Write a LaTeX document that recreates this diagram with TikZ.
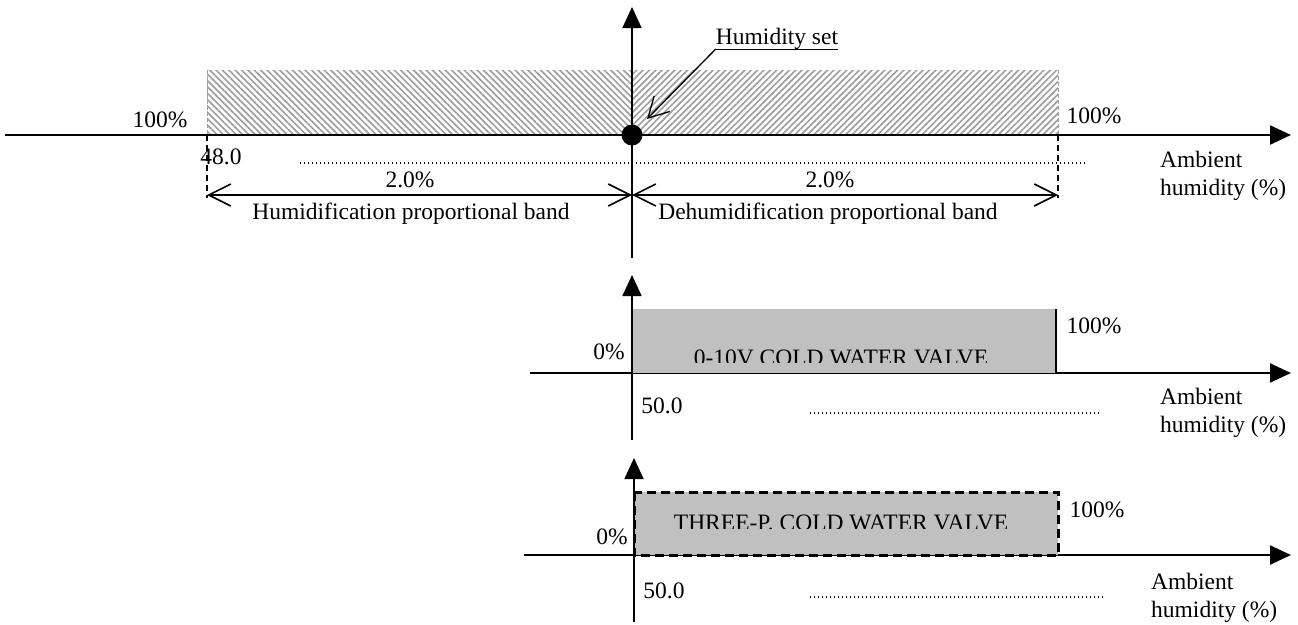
\documentclass[tikz,border=0pt]{standalone}
\usepackage{fontspec}
\setmainfont{Liberation Serif}
\usetikzlibrary{arrows.meta,patterns.meta}
\definecolor{valvegray}{HTML}{C0C0C0}
\definecolor{hatchgray}{HTML}{A0A0A0}
\begin{document}
\begin{tikzpicture}[x=1pt,y=-1pt,
  lbl/.style={font=\fontsize{23.5}{27}\selectfont,inner sep=0pt,anchor=base},
  lblw/.style={font=\fontsize{23.5}{27.5}\selectfont,inner sep=0pt,anchor=base west,align=left},
  thickaxis/.style={line width=2.2pt},
  axisarrow/.style={-{Triangle[length=21pt,width=19pt]}},
  vaxis/.style={line width=1.6pt},
  guide/.style={line width=1.3pt,dash pattern=on 6pt off 4pt},
  hatchedge/.style={hatchgray,line width=0.8pt,dash pattern=on 4pt off 2pt},
  dotline/.style={line width=1.3pt,dash pattern=on 1.3pt off 2.7pt},
  dimline/.style={line width=1.8pt,{Straight Barb[length=22pt,width=22pt,line width=1.6pt]}-{Straight Barb[length=22pt,width=22pt,line width=1.6pt]}},
  hatchL/.style={pattern={Lines[angle=-45,distance=4.5pt,line width=1.7pt]},pattern color=hatchgray},
  hatchR/.style={pattern={Lines[angle=45,distance=4.5pt,line width=1.7pt]},pattern color=hatchgray},
]
\useasboundingbox (0,0) rectangle (1298,624);

% ---------- top chart ----------
\coordinate (L0) at (5,135);
\coordinate (A) at (207,135);
\coordinate (O) at (632,135);
\coordinate (B) at (1058,135);
\coordinate (R) at (1291,135);
\coordinate (Otop) at (632,7);
\coordinate (Obot) at (632,258);
\coordinate (Aend) at (207,198);
\coordinate (Bend) at (1058,198);
\coordinate (DL) at (207,195);
\coordinate (DO) at (632,195);
\coordinate (DR) at (1058,195);
\coordinate (dot1a) at (300,163);
\coordinate (dot1b) at (1087,163);

\fill[hatchL] (207,70) rectangle (632,135);
\fill[hatchR] (632,70) rectangle (1058,135);
\draw[hatchedge] (207,70) -- (A);
\draw[hatchedge] (1058,70) -- (B);

\draw[thickaxis] (L0) -- (A);
\draw[line width=1.2pt] (A) -- (B);
\draw[thickaxis,axisarrow] (B) -- (R);
\draw[vaxis,axisarrow] (Obot) -- (Otop);
\fill (O) circle (10.5);

\draw[guide] (A) -- (Aend);
\draw[guide] (B) -- (Bend);
\draw[dotline] (dot1a) -- (dot1b);
\draw[dimline] (DL) -- (DO);
\draw[dimline] (DO) -- (DR);

\node[lbl] (l100) at (160,127) {100\%};
\node[lbl] (l48) at (221,164) {48.0};
\node[lbl] (p2l) at (410,187) {2.0\%};
\node[lbl] (hum) at (411,219) {Humidification proportional band};
\node[lbl] (p2r) at (830,187) {2.0\%};
\node[lbl] (dehum) at (828,219) {Dehumidification proportional band};
\node[lbl] (r100) at (1094,123) {100\%};
\node[lblw] (amb1) at (1160,195) {Ambient\\humidity (\%)};

\node[lbl] (set) at (777,44) {Humidity set};
\coordinate (setul) at ([yshift=-5pt]set.base west);
\coordinate (setur) at ([yshift=-5pt]set.base east);
\coordinate (settip) at (647,119);
\draw[line width=1pt] (setul) -- (setur);
\draw[line width=1.3pt,-{Straight Barb[length=20pt,width=22pt]}] (setul) -- (settip);

% ---------- middle chart ----------
\coordinate (M0) at (530,373);
\coordinate (MR) at (1291,373);
\coordinate (Mtop) at (632,275);
\coordinate (Mbot) at (632,440);
\coordinate (dot2a) at (810,413);
\coordinate (dot2b) at (1100,413);
\draw[thickaxis,axisarrow] (M0) -- (MR);
\fill[valvegray] (632,309) rectangle (1056,373);
\draw[line width=1.6pt] (1056,309) -- (1056,373);
\draw[vaxis,axisarrow] (Mbot) -- (Mtop);
\begin{scope}
  \clip (632,300) rectangle (1056,362);
  \node[lbl] (v1) at (841,365) {0-10V COLD WATER VALVE};
\end{scope}
\node[lbl] (m0) at (609,359) {0\%};
\node[lbl] (m100) at (1094,333) {100\%};
\node[lbl] (m50) at (662,413) {50.0};
\draw[dotline] (dot2a) -- (dot2b);
\node[lblw] (amb2) at (1160,432) {Ambient\\humidity (\%)};

% ---------- bottom chart ----------
\coordinate (N0) at (524,555);
\coordinate (NR) at (1291,555);
\coordinate (Ntop) at (634,458);
\coordinate (Nbot) at (634,622);
\coordinate (dot3a) at (810,597);
\coordinate (dot3b) at (1103,597);
\draw[thickaxis,axisarrow] (N0) -- (NR);
\fill[valvegray] (634,492) rectangle (1058,555);
\begin{scope}
  \clip (634,480) rectangle (1058,528);
  \node[lbl] (v2) at (841,530) {THREE-P. COLD WATER VALVE};
\end{scope}
\draw[line width=3pt,dash pattern=on 9pt off 5pt] (634,492) rectangle (1058,555);
\draw[vaxis,axisarrow] (Nbot) -- (Ntop);
\node[lbl] (n0) at (612,544) {0\%};
\node[lbl] (n100) at (1097,517) {100\%};
\node[lbl] (n50) at (664,598) {50.0};
\draw[dotline] (dot3a) -- (dot3b);
\node[lblw] (amb3) at (1151,617) {Ambient\\humidity (\%)};
\end{tikzpicture}
\end{document}
